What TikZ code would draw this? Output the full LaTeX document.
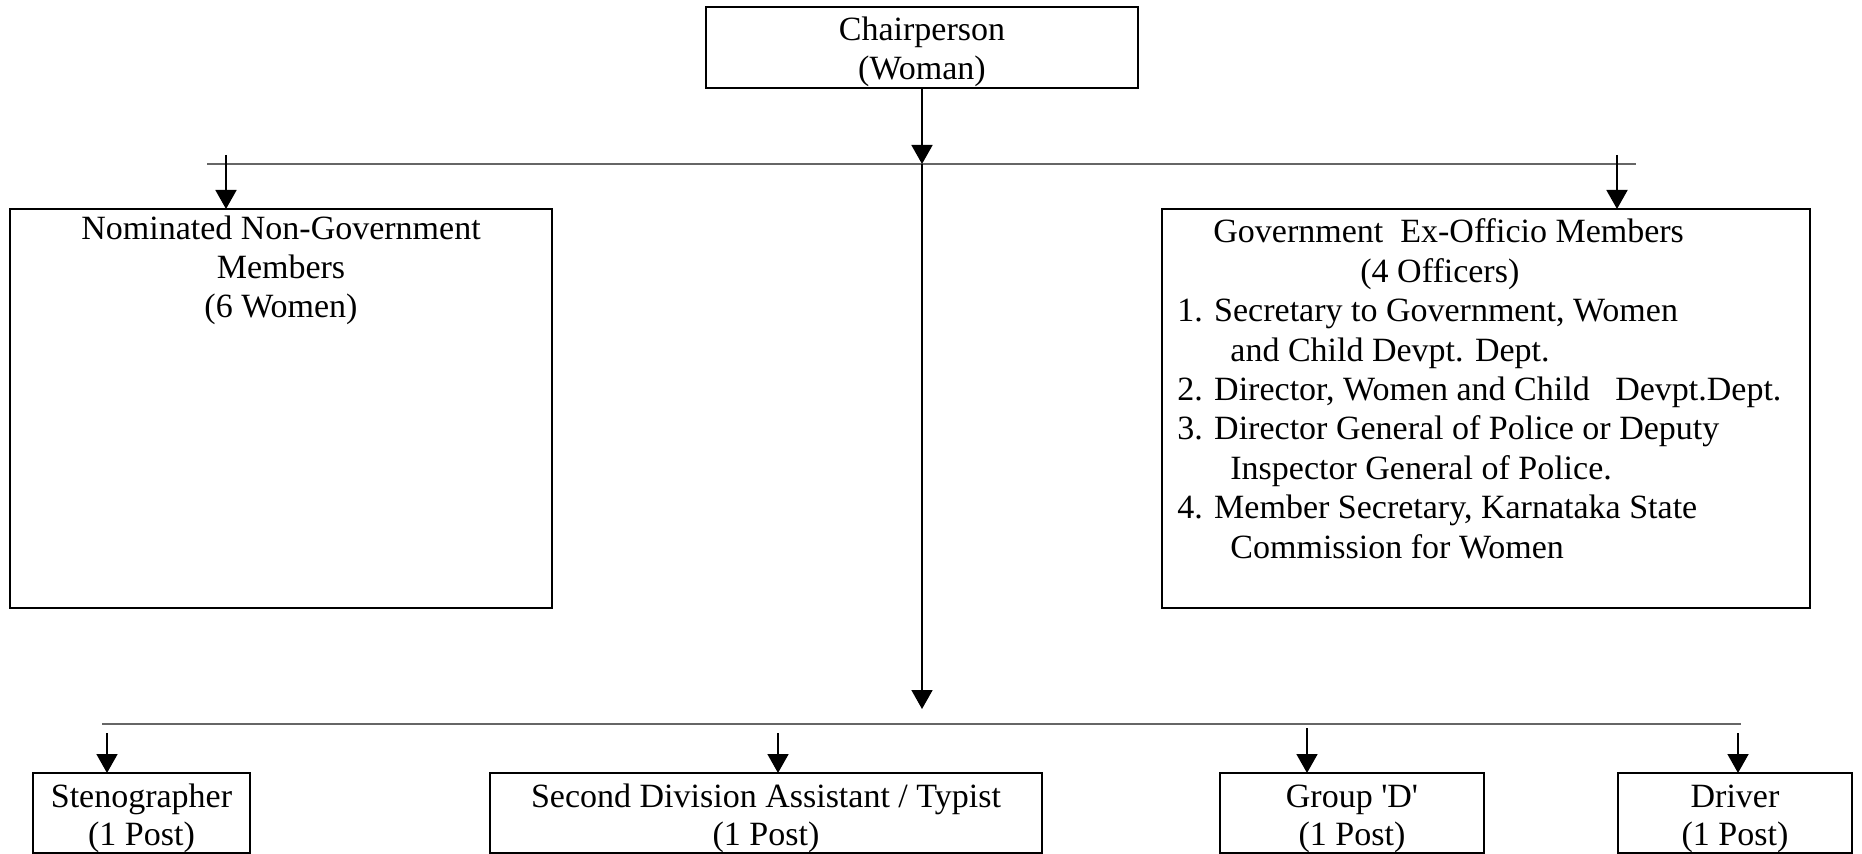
\documentclass[tikz,border=0pt]{standalone}
\usepackage{fontspec}
\setmainfont{Liberation Serif}
\usetikzlibrary{arrows.meta}
\begin{document}
\begin{tikzpicture}[x=0.5pt,y=-0.5pt,
  box/.style={draw, line width=0.9pt, inner sep=0pt, outer sep=0pt, anchor=north west},
  lbl/.style={inner sep=0pt, font=\fontsize{17}{19.7}\selectfont},
  lc/.style={lbl, anchor=base},
  ll/.style={lbl, anchor=base west},
  conn/.style={line width=0.9pt, -{Triangle[width=10.5pt,length=9.5pt]}},
  bar/.style={line width=0.7pt, black!60}]
\useasboundingbox (0,0) rectangle (1862,854);
% boxes
\node[box, minimum width=216pt, minimum height=40.5pt] (chair) at (706,7) {};
\node[box, minimum width=271pt, minimum height=199.5pt] (nom) at (10,209) {};
\node[box, minimum width=324pt, minimum height=199.5pt] (gov) at (1162,209) {};
\node[box, minimum width=108.5pt, minimum height=40pt] (steno) at (33,773) {};
\node[box, minimum width=276pt, minimum height=40pt] (sda) at (490,773) {};
\node[box, minimum width=132pt, minimum height=40pt] (grpd) at (1220,773) {};
\node[box, minimum width=117pt, minimum height=40pt] (driver) at (1618,773) {};
% texts
\node[lc] (c1) at (922,41) {Chairperson};
\node[lc] (c2) at (922,80) {(Woman)};
\node[lc] (n1) at (281,240) {Nominated Non-Government};
\node[lc] (n2) at (281,279) {Members};
\node[lc] (n3) at (281,318) {(6 Women)};
\node[ll] (g1) at (1213,243) {Government\ \ Ex-Officio Members};
\node[ll] (g2) at (1360,282.4) {(4 Officers)};
\node[ll] (g3) at (1177,321.8) {1. Secretary to Government, Women};
\node[ll] (g4) at (1230,361.2) {and Child Devpt. Dept.};
\node[ll] (g5) at (1177,400.6) {2. Director, Women and Child\ \ \ Devpt.Dept.};
\node[ll] (g6) at (1177,440) {3. Director General of Police or Deputy};
\node[ll] (g7) at (1230,479.4) {Inspector General of Police.};
\node[ll] (g8) at (1177,518.8) {4. Member Secretary, Karnataka State};
\node[ll] (g9) at (1230,558.2) {Commission for Women};
\node[lc] (s1) at (141.5,807) {Stenographer};
\node[lc] (s2) at (141.5,845) {(1 Post)};
\node[lc] (d1) at (766,807) {Second Division Assistant / Typist};
\node[lc] (d2) at (766,845) {(1 Post)};
\node[lc] (gd1) at (1352,807) {Group \textquotesingle D\textquotesingle};
\node[lc] (gd2) at (1352,845) {(1 Post)};
\node[lc] (dr1) at (1735,807) {Driver};
\node[lc] (dr2) at (1735,845) {(1 Post)};
% coordinates
\coordinate (jt) at (922,164);
\coordinate (jb) at (922,709);
\coordinate (tl) at (207,164);
\coordinate (tr) at (1636,164);
\coordinate (bl) at (102,724);
\coordinate (br) at (1741,724);
\coordinate (na) at (226,155);
\coordinate (ga) at (1617,155);
\coordinate (sa) at (107,733);
\coordinate (da) at (778,733);
\coordinate (gda) at (1307,728);
\coordinate (dra) at (1738,733);
% bars
\draw[bar] (tl) -- (tr);
\draw[bar] (bl) -- (br);
% connectors
\draw[conn] (jt |- chair.south) -- (jt);
\draw[conn] (jt) -- (jb);
\draw[conn] (na) -- (na |- nom.north);
\draw[conn] (ga) -- (ga |- gov.north);
\draw[conn] (sa) -- (sa |- steno.north);
\draw[conn] (da) -- (da |- sda.north);
\draw[conn] (gda) -- (gda |- grpd.north);
\draw[conn] (dra) -- (dra |- driver.north);
\end{tikzpicture}
\end{document}
